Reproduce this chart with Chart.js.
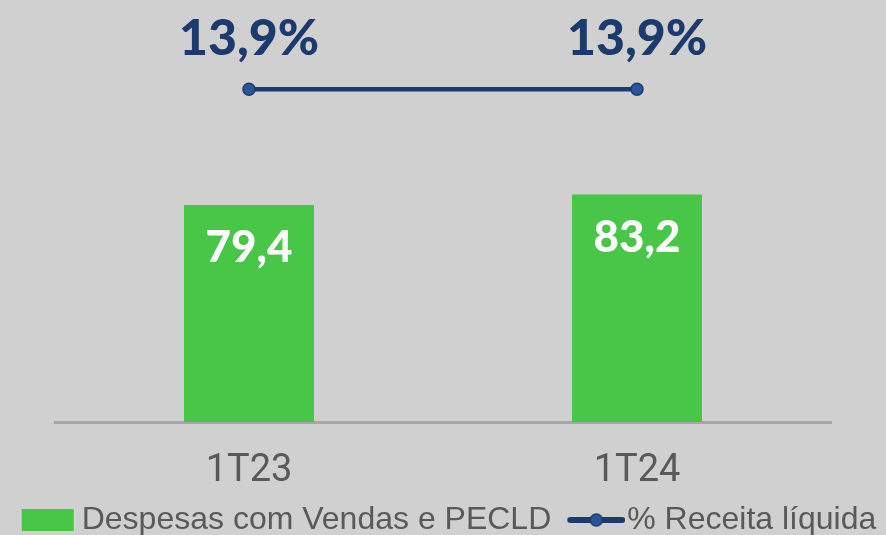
<!DOCTYPE html>
<html>
<head>
<meta charset="utf-8">
<script src="https://cdn.jsdelivr.net/npm/chart.js@4.4.1/dist/chart.umd.min.js"></script>
<style>
  html, body { margin: 0; padding: 0; background: #d0d0d0; }
  canvas { display: block; }
</style>
</head>
<body>
<canvas id="c" width="886" height="535"></canvas>
<script>
// ---- data ----
const categories = ['1T23', '1T24'];
const despesas = [79.4, 83.2];
const receitaPct = [13.9, 13.9];
const seriesNames = ['Despesas com Vendas e PECLD', '% Receita líquida'];

// ---- styles ----
const BG = '#d0d0d0';
const GREEN = '#47c648';
const NAVY = '#1c3a6b';
const NAVY_PT = '#2a5599';
const GREY_TXT = '#595959';

function fmt(v, dec) { return v.toFixed(dec).replace('.', ','); }

// legend icons (canvas point styles)
function makeBoxIcon() {
  const c = document.createElement('canvas');
  c.width = 76; c.height = 22;
  const g = c.getContext('2d');
  g.fillStyle = GREEN;
  g.fillRect(22, 0, 52, 22);
  return c;
}
function makeLineIcon() {
  const c = document.createElement('canvas');
  c.width = 84; c.height = 16;
  const g = c.getContext('2d');
  g.strokeStyle = NAVY; g.lineWidth = 6; g.lineCap = 'round';
  g.beginPath(); g.moveTo(29, 8); g.lineTo(81, 8); g.stroke();
  g.beginPath(); g.arc(55, 8, 6, 0, Math.PI * 2);
  g.fillStyle = NAVY_PT; g.fill();
  g.lineWidth = 1.5; g.strokeStyle = NAVY; g.stroke();
  return c;
}
const icons = [makeBoxIcon(), makeLineIcon()];

const bgPlugin = {
  id: 'bg',
  beforeDraw(chart) {
    const ctx = chart.ctx;
    ctx.save();
    ctx.fillStyle = BG;
    ctx.fillRect(0, 0, chart.width, chart.height);
    ctx.restore();
  }
};

const labelPlugin = {
  id: 'valueLabels',
  afterDatasetsDraw(chart) {
    const ctx = chart.ctx;
    ctx.save();
    ctx.textAlign = 'center';
    ctx.textBaseline = 'alphabetic';
    // bar labels
    const barMeta = chart.getDatasetMeta(0);
    ctx.fillStyle = '#ffffff';
    ctx.font = '900 44px Lato, "Open Sans", sans-serif';
    barMeta.data.forEach((el, i) => {
      ctx.fillText(fmt(despesas[i], 1), el.x, el.y + 57);
    });
    // line labels
    const lineMeta = chart.getDatasetMeta(1);
    ctx.fillStyle = NAVY;
    ctx.font = '900 50px Lato, "Open Sans", sans-serif';
    lineMeta.data.forEach((el, i) => {
      ctx.fillText(fmt(receitaPct[i], 1) + '%', el.x, el.y - 34);
    });
    ctx.restore();
  }
};

new Chart(document.getElementById('c'), {
  data: {
    labels: categories,
    datasets: [
      {
        type: 'bar',
        label: seriesNames[0],
        data: despesas,
        backgroundColor: GREEN,
        borderWidth: 0,
        categoryPercentage: 0.67,
        barPercentage: 0.5,
        yAxisID: 'y',
        order: 2
      },
      {
        type: 'line',
        label: seriesNames[1],
        data: receitaPct,
        borderColor: NAVY,
        borderWidth: 4.5,
        pointRadius: 6,
        pointBackgroundColor: NAVY_PT,
        pointBorderColor: NAVY,
        pointBorderWidth: 1.5,
        fill: false,
        tension: 0,
        yAxisID: 'y1',
        order: 1
      }
    ]
  },
  options: {
    responsive: false,
    animation: false,
    events: [],
    layout: { padding: { top: 12, left: 0, right: 0, bottom: -11 } },
    scales: {
      x: {
        grid: { display: false },
        border: { display: true, color: '#a6a6a6', width: 3 },
        ticks: {
          color: GREY_TXT,
          padding: 19,
          font: { family: 'Roboto, "Liberation Sans", sans-serif', size: 38 }
        },
        afterFit(s) { s.height = 78; }
      },
      y: {
        position: 'left',
        min: 0, max: 150,
        grid: { display: false },
        border: { display: false },
        ticks: { display: false },
        afterFit(s) { s.width = 55; }
      },
      y1: {
        position: 'right',
        min: 0, max: 17.13,
        grid: { display: false },
        border: { display: false },
        ticks: { display: false },
        afterFit(s) { s.width = 55; }
      }
    },
    plugins: {
      tooltip: { enabled: false },
      legend: {
        display: true,
        position: 'bottom',
        labels: {
          usePointStyle: true,
          pointStyleWidth: 56,
          padding: 4,
          color: GREY_TXT,
          font: { family: '"Liberation Sans", Arial, sans-serif', size: 32 },
          generateLabels(chart) {
            return chart.data.datasets.map((ds, i) => ({
              text: ds.label,
              pointStyle: icons[i],
              fillStyle: 'transparent',
              strokeStyle: 'transparent',
              lineWidth: 0,
              hidden: false,
              datasetIndex: i,
              fontColor: GREY_TXT
            }));
          }
        }
      }
    }
  },
  plugins: [bgPlugin, labelPlugin]
});
</script>
</body>
</html>
